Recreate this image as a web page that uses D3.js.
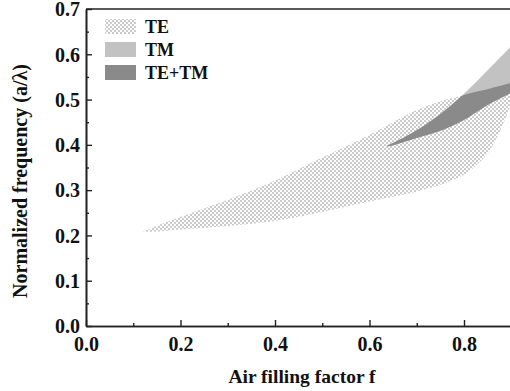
<!DOCTYPE html>
<html>
<head>
<meta charset="utf-8">
<script src="https://cdn.jsdelivr.net/npm/d3@7"></script>
<style>
  html, body { margin: 0; padding: 0; background: #fff; }
  svg { display: block; }
  text { font-family: "Liberation Serif", "Times New Roman", serif; font-weight: bold; fill: #111; }
</style>
</head>
<body>
<svg id="chart" width="510" height="391"></svg>
<script>
// Photonic band gap map: gap edges versus air filling factor
const teF    = [0.121, 0.16, 0.2, 0.3, 0.4, 0.5, 0.6, 0.7, 0.75, 0.8, 0.825, 0.85, 0.875, 0.9];
const teHigh = [0.2075, 0.225, 0.241, 0.279, 0.321, 0.372, 0.422, 0.477, 0.496, 0.510, 0.517, 0.523, 0.530, 0.537];
const teLow  = [0.2075, 0.209, 0.213, 0.221, 0.232, 0.252, 0.275, 0.297, 0.312, 0.334, 0.354, 0.381, 0.428, 0.490];

const tmF    = [0.637, 0.65, 0.7, 0.75, 0.8, 0.85, 0.9];
const tmHigh = [0.398, 0.404, 0.432, 0.468, 0.513, 0.565, 0.618];
const tmLow  = [0.396, 0.399, 0.415, 0.431, 0.455, 0.488, 0.515];

const xMajor = [0.0, 0.2, 0.4, 0.6, 0.8];
const xMinor = [0.1, 0.3, 0.5, 0.7];
const yMajor = [0.0, 0.1, 0.2, 0.3, 0.4, 0.5, 0.6, 0.7];
const yMinor = [0.05, 0.15, 0.25, 0.35, 0.45, 0.55, 0.65];

const legendItems = ["TE", "TM", "TE+TM"];

const svg = d3.select("#chart");
const x = d3.scaleLinear().domain([0, 0.9]).range([86, 511.25]);
const y = d3.scaleLinear().domain([0, 0.7]).range([326, 9]);

// checkered fill used for the TE gap
const defs = svg.append("defs");
const pat = defs.append("pattern").attr("id", "checker")
  .attr("patternUnits", "userSpaceOnUse").attr("width", 4).attr("height", 4);
pat.append("rect").attr("width", 4).attr("height", 4).attr("fill", "#fff");
pat.append("rect").attr("x", 0).attr("y", 0).attr("width", 2).attr("height", 2).attr("fill", "#cacaca");
pat.append("rect").attr("x", 2).attr("y", 2).attr("width", 2).attr("height", 2).attr("fill", "#cacaca");

const teRows = teF.map((f, i) => ({ f, lo: teLow[i], hi: teHigh[i] }));
const tmRows = tmF.map((f, i) => ({ f, lo: tmLow[i], hi: tmHigh[i] }));

const area = d3.area()
  .x(d => x(d.f)).y0(d => y(d.lo)).y1(d => y(d.hi))
  .curve(d3.curveCatmullRom.alpha(0.5));

defs.append("clipPath").attr("id", "teClip")
  .append("path").attr("d", area(teRows));

// TE gap
svg.append("path").attr("d", area(teRows)).attr("fill", "url(#checker)");
// TM gap
svg.append("path").attr("d", area(tmRows)).attr("fill", "#c2c2c2");
// complete gap: overlap of TE and TM
svg.append("path").attr("d", area(tmRows)).attr("fill", "#8a8a8a")
  .attr("clip-path", "url(#teClip)");

// axes with inward ticks
const fmt = d3.format(".1f");
const gx = svg.append("g").attr("transform", "translate(0,326)");
gx.call(d3.axisBottom(x).tickValues(xMajor).tickFormat(fmt).tickSize(-6).tickSizeOuter(0).tickPadding(11));
gx.append("g").call(d3.axisBottom(x).tickValues(xMinor).tickFormat("").tickSize(-3).tickSizeOuter(0));

const gy = svg.append("g").attr("transform", "translate(86,0)");
gy.call(d3.axisLeft(y).tickValues(yMajor).tickFormat(fmt).tickSize(-6).tickSizeOuter(0).tickPadding(6));
gy.append("g").call(d3.axisLeft(y).tickValues(yMinor).tickFormat("").tickSize(-3).tickSizeOuter(0));

svg.selectAll(".domain").attr("stroke", "#222").attr("stroke-width", 1.6);
svg.selectAll(".tick line").attr("stroke", "#222").attr("stroke-width", 1.4);
svg.selectAll(".tick text").style("font-size", "20px")
  .style("font-family", "'Liberation Serif', serif").style("font-weight", "bold").attr("fill", "#111");
gx.selectAll(".tick text").attr("dy", "0.71em");
gy.selectAll(".tick text").attr("dy", "0.34em");

// top frame line
svg.append("line").attr("x1", x(0)).attr("x2", 510).attr("y1", y(0.7)).attr("y2", y(0.7))
  .attr("stroke", "#222").attr("stroke-width", 1.6);

// axis titles
svg.append("text").attr("x", 302).attr("y", 383).attr("text-anchor", "middle")
  .style("font-size", "19.5px").text("Air filling factor f");
svg.append("text").attr("transform", "translate(27,181) rotate(-90)").attr("text-anchor", "middle")
  .style("font-size", "20px").text("Normalized frequency (a/λ)");

// legend
const fills = ["url(#checker)", "#c2c2c2", "#8a8a8a"];
const lg = svg.append("g");
legendItems.forEach((name, i) => {
  const top = 19 + i * 23;
  lg.append("rect").attr("x", 105).attr("y", top).attr("width", 31).attr("height", 15).attr("fill", fills[i]);
  lg.append("text").attr("x", 145).attr("y", top + 14).style("font-size", "18px").text(name);
});
</script>
</body>
</html>
